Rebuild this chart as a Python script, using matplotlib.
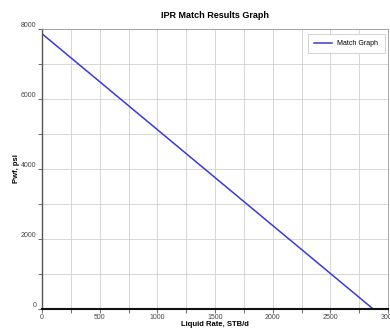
import matplotlib.pyplot as plt
from matplotlib.ticker import MultipleLocator

plt.rcParams['font.family'] = ['Liberation Sans', 'DejaVu Sans']

liquid_rate = [0, 2870]
pwf = [7860, 0]

fig = plt.figure(figsize=(3.9, 3.29), dpi=100)
ax = fig.add_axes([0.108, 0.061, 0.887, 0.851])

ax.plot(liquid_rate, pwf, color="#3a3ad8", lw=1.1, label="Match Graph")

ax.set_xlim(0, 3000)
ax.set_ylim(0, 8000)
ax.xaxis.set_major_locator(MultipleLocator(500))
ax.xaxis.set_minor_locator(MultipleLocator(250))
ax.yaxis.set_major_locator(MultipleLocator(2000))
ax.yaxis.set_minor_locator(MultipleLocator(1000))
ax.grid(which="both", color="#d0d0d0", lw=0.6)
ax.set_axisbelow(True)

ax.tick_params(which="both", labelsize=5, colors="#555555", labelcolor="#444444", length=3, width=0.6)
ax.tick_params(axis="y", pad=1)
ax.tick_params(axis="x", pad=1)
for lbl in ax.get_yticklabels():
    lbl.set_va("bottom")

for s in ["top", "right"]:
    ax.spines[s].set_color("#999999")
    ax.spines[s].set_linewidth(0.6)
ax.spines["left"].set_color("#555555")
ax.spines["left"].set_linewidth(1.0)
ax.spines["bottom"].set_color("#111111")
ax.spines["bottom"].set_linewidth(1.5)

ax.set_title("IPR Match Results Graph", fontsize=6.5, fontweight="bold", pad=8)
ax.set_xlabel("Liquid Rate, STB/d", fontsize=5.5, fontweight="bold", labelpad=0)
ax.set_ylabel("Pwf, psi", fontsize=5.5, fontweight="bold", labelpad=1)

leg = ax.legend(loc="upper right", fontsize=5, fancybox=False, framealpha=1,
                edgecolor="#cccccc", handlelength=2.5, borderpad=0.9,
                bbox_to_anchor=(1.0, 0.995))
leg.get_frame().set_linewidth(0.6)

fig.savefig("out.png", dpi=100)
